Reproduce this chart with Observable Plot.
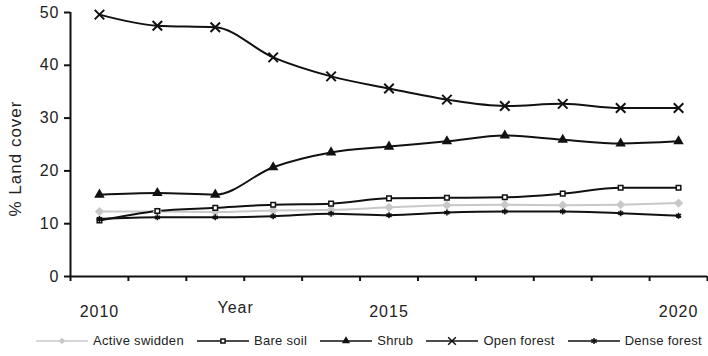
<!DOCTYPE html>
<html>
<head>
<meta charset="utf-8">
<script src="https://cdn.jsdelivr.net/npm/d3@7"></script>
<script src="https://cdn.jsdelivr.net/npm/@observablehq/plot@0.6"></script>
<style>
  html, body { margin: 0; padding: 0; background: #fff; }
  #wrap { position: relative; width: 708px; height: 356px; font-family: Arial, "Liberation Sans", sans-serif; }
  #chart text { letter-spacing: 1px; }
  #legend { position: absolute; left: 36px; top: 333px; display: flex; align-items: center; gap: 13px; font-size: 13px; letter-spacing: 0.3px; color: #222; }
  #legend .item { display: flex; align-items: center; gap: 5px; }
  #legend svg { display: block; }
</style>
</head>
<body>
<div id="wrap">
  <div id="chart"></div>
  <div id="legend"></div>
</div>
<script>
const years = [2010, 2011, 2012, 2013, 2014, 2015, 2016, 2017, 2018, 2019, 2020];
const yearLabels = [2010, 2015, 2020];
const yTicks = [0, 10, 20, 30, 40, 50];
const seriesNames = ["Active swidden", "Bare soil", "Shrub", "Open forest", "Dense forest"];
const activeSwidden = [12.3, 12.3, 12.2, 12.5, 12.6, 13.1, 13.5, 13.6, 13.5, 13.6, 13.9];
const bareSoil      = [10.6, 12.4, 13.0, 13.6, 13.8, 14.8, 14.9, 15.0, 15.7, 16.8, 16.8];
const shrub         = [15.5, 15.8, 15.5, 20.7, 23.5, 24.6, 25.6, 26.7, 25.9, 25.2, 25.6];
const openForest    = [49.6, 47.5, 47.2, 41.5, 37.9, 35.6, 33.5, 32.3, 32.7, 31.9, 31.9];
const denseForest   = [10.9, 11.2, 11.2, 11.4, 11.9, 11.6, 12.1, 12.3, 12.3, 12.0, 11.5];
const seriesValues = [activeSwidden, bareSoil, shrub, openForest, denseForest];

const ink = "#111";
const styles = [
  {line: "#c8c8c8", symbol: "diamond2", fill: "#c8c8c8", stroke: "none", r: 4.2, sw: 0},
  {line: ink, symbol: "square2", fill: "#fff", stroke: ink, r: 2.9, sw: 1.5},
  {line: ink, symbol: "triangle2", fill: ink, stroke: "none", r: 5, sw: 0},
  {line: ink, symbol: "times", fill: "none", stroke: ink, r: 4.4, sw: 2},
  {line: ink, symbol: "asterisk", fill: "none", stroke: ink, r: 2.8, sw: 1.6}
];

const xDomain = [years[0] - 0.5, years[years.length - 1] + 0.5];
const bandEdges = d3.range(years.length + 1).map(i => xDomain[0] + i);

const rows = seriesNames.map((name, k) => years.map((year, i) => ({series: name, year, value: seriesValues[k][i]})));

const marks = [];
rows.forEach((data, k) => {
  const s = styles[k];
  marks.push(Plot.line(data, {x: "year", y: "value", stroke: s.line, strokeWidth: 2, curve: "monotone-x"}));
});
rows.forEach((data, k) => {
  const s = styles[k];
  marks.push(Plot.dot(data, {x: "year", y: "value", symbol: () => s.symbol, r: s.r, fill: s.fill, stroke: s.stroke, strokeWidth: s.sw}));
});

const chart = Plot.plot({
  width: 708,
  height: 325,
  marginLeft: 70,
  marginRight: 1,
  marginTop: 12,
  marginBottom: 49,
  style: {fontFamily: "Arial, 'Liberation Sans', sans-serif", color: "#222", background: "#fff"},
  x: {domain: xDomain},
  y: {domain: [0, 50]},
  symbol: {type: "identity"},
  marks: [
    Plot.axisY({ticks: yTicks, tickSize: 6, tickPadding: 5, fontSize: 16, stroke: ink, strokeWidth: 2, label: null}),
    Plot.axisX({ticks: bandEdges, tickSize: 5, tickFormat: () => "", stroke: ink, strokeWidth: 2, label: null}),
    Plot.axisX({ticks: yearLabels, tickSize: 0, tickPadding: 29, tickFormat: d => String(d), fontSize: 16, label: null}),
    Plot.ruleY([0], {stroke: ink, strokeWidth: 2}),
    Plot.ruleX([xDomain[0]], {stroke: ink, strokeWidth: 2}),
    Plot.text(["Year"], {text: d => d, frameAnchor: "bottom-left", textAnchor: "start", lineAnchor: "middle", dx: 147, dy: 31.5, fontSize: 16, fill: "#222"}),
    Plot.text(["% Land cover"], {text: d => d, frameAnchor: "left", rotate: -90, textAnchor: "middle", lineAnchor: "middle", dx: -55, dy: 14, fontSize: 17, fill: "#222"}),
    ...marks
  ]
});
document.getElementById("chart").appendChild(chart);

// Legend
const legend = d3.select("#legend");
seriesNames.forEach((name, k) => {
  const s = styles[k];
  const item = legend.append("div").attr("class", "item");
  const svg = item.append("svg").attr("width", 52).attr("height", 14);
  svg.append("line").attr("x1", 0).attr("x2", 52).attr("y1", 7).attr("y2", 7)
    .attr("stroke", s.line).attr("stroke-width", 1.5);
  const typeMap = {diamond2: d3.symbolDiamond2, square2: d3.symbolSquare2, triangle2: d3.symbolTriangle2, times: d3.symbolTimes, asterisk: d3.symbolAsterisk};
  const sizeMap = [28, 22, 48, 40, 26];
  svg.append("path").attr("transform", "translate(26,7)")
    .attr("d", d3.symbol(typeMap[s.symbol], sizeMap[k])())
    .attr("fill", s.fill).attr("stroke", s.stroke === "none" ? "none" : s.stroke)
    .attr("stroke-width", s.sw ? 1.5 : 0);
  item.append("span").text(name);
});
</script>
</body>
</html>
